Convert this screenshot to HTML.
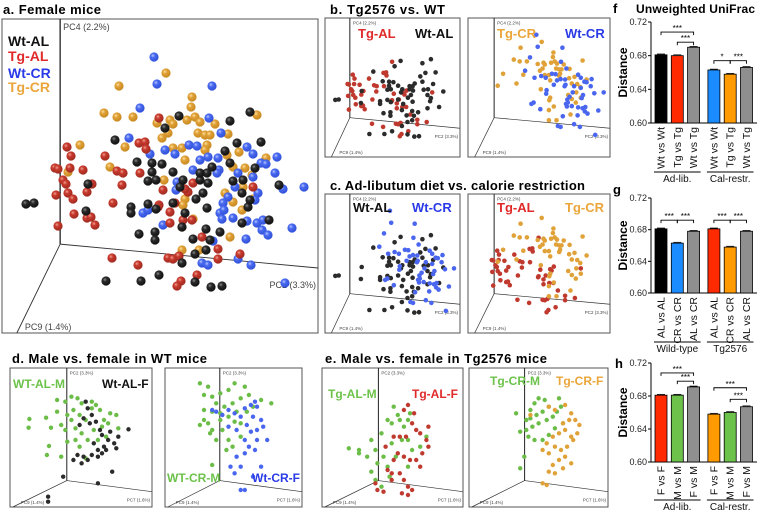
<!DOCTYPE html>
<html><head><meta charset="utf-8"><style>
html,body{margin:0;padding:0;background:#fff;}
svg{display:block;font-family:"Liberation Sans",Arial,sans-serif;}
</style></head><body>
<svg id="fig" width="758" height="513" viewBox="0 0 758 513" xmlns="http://www.w3.org/2000/svg">
<defs>
<radialGradient id="gk" cx="38%" cy="35%" r="65%"><stop offset="0" stop-color="#888"/><stop offset="0.35" stop-color="#2a2a2a"/><stop offset="1" stop-color="#111"/></radialGradient>
<radialGradient id="gr" cx="38%" cy="35%" r="65%"><stop offset="0" stop-color="#f0a090"/><stop offset="0.35" stop-color="#c83a2e"/><stop offset="1" stop-color="#a02a20"/></radialGradient>
<radialGradient id="gb" cx="38%" cy="35%" r="65%"><stop offset="0" stop-color="#b8c8ff"/><stop offset="0.35" stop-color="#4a6af0"/><stop offset="1" stop-color="#3050d8"/></radialGradient>
<radialGradient id="go" cx="38%" cy="35%" r="65%"><stop offset="0" stop-color="#ffe0a0"/><stop offset="0.35" stop-color="#e0a238"/><stop offset="1" stop-color="#c88a20"/></radialGradient>
</defs>
<text x="3" y="14" font-size="13" font-weight="bold" textLength="98">a. Female mice</text>
<text x="330" y="14" font-size="13" font-weight="bold" textLength="115">b. Tg2576 vs. WT</text>
<text x="330" y="190" font-size="13" font-weight="bold" textLength="255">c. Ad-libutum diet vs. calorie restriction</text>
<text x="12" y="363" font-size="13" font-weight="bold" textLength="195">d. Male vs. female in WT mice</text>
<text x="325" y="363" font-size="13" font-weight="bold" textLength="222">e. Male vs. female in Tg2576 mice</text>
<text x="613" y="13" font-size="13" font-weight="bold">f</text>
<text x="636" y="13" font-size="12" font-weight="bold" textLength="119">Unweighted UniFrac</text>
<text x="613" y="194" font-size="13" font-weight="bold">g</text>
<text x="615" y="368" font-size="13" font-weight="bold">h</text>
<g id="layer"></g>
</svg>
<script>
// ---------- Panel a data (PCoA scores in panel-a units) ----------
const aWtAL=[[26,204],[34,203],[88,184],[86,211],[106,281],[141,281],[159,275],[195,282],[211,287],[222,286],[182,263],[195,254],[206,250],[139,234],[155,232],[155,240],[193,239],[206,229],[220,232],[210,240],[131,207],[131,213],[148,204],[156,209],[173,203],[185,213],[182,227],[207,208],[203,193],[196,199],[180,187],[200,180],[208,183],[183,180],[148,181],[156,180],[137,162],[162,164],[173,172],[152,163],[152,172],[115,140],[165,128],[179,116],[230,121],[250,112],[237,143],[225,151],[230,163],[212,167],[207,173],[233,181],[243,180],[255,168],[261,142],[279,185],[269,220],[248,207],[242,223],[242,193],[250,200],[200,173]];
const aTgAL=[[67,147],[71,156],[55,168],[58,169],[70,168],[63,180],[66,184],[56,195],[68,193],[73,199],[74,214],[58,226],[87,218],[91,217],[95,225],[87,192],[92,184],[83,170],[105,156],[113,203],[117,171],[123,173],[122,185],[140,173],[139,143],[145,142],[146,149],[159,118],[163,190],[159,205],[170,212],[175,203],[170,223],[183,220],[192,220],[188,192],[193,183],[185,189],[112,258],[138,265],[168,258],[173,259],[179,256],[181,281],[177,286],[197,275],[202,237],[218,249],[218,259],[240,254],[253,187],[158,207]];
const aWtCR=[[154,57],[157,84],[212,86],[140,108],[209,118],[221,133],[129,138],[150,154],[165,150],[175,154],[189,145],[197,146],[208,157],[200,160],[193,170],[218,158],[219,170],[217,173],[247,147],[253,154],[261,163],[266,164],[277,157],[275,173],[283,189],[304,187],[253,177],[258,193],[255,200],[238,173],[235,187],[228,197],[223,203],[220,213],[222,219],[233,218],[247,221],[257,223],[263,220],[262,230],[268,235],[292,228],[246,239],[213,241],[163,225],[143,213],[148,210],[177,182],[176,190],[202,263],[208,265],[238,259],[251,265],[285,283],[224,210]];
const aTgCR=[[166,73],[119,86],[104,113],[117,117],[133,117],[192,97],[191,107],[157,123],[170,120],[173,124],[187,120],[195,117],[200,122],[215,124],[257,115],[168,133],[162,138],[198,133],[205,135],[210,135],[228,134],[80,145],[125,147],[173,148],[182,148],[207,145],[205,150],[185,160],[227,155],[239,152],[266,158],[110,167],[68,172],[164,180],[233,167],[245,168],[252,175],[225,193],[233,202],[242,210],[253,199],[185,199],[183,205],[193,219],[182,227],[230,237],[182,250],[199,250],[243,187]];
// ---------- Panels d/e data (PC scores, male/female) ----------
const dWtALM=[[72,237],[113,233],[125,263],[70,263],[120,318],[115,345],[150,350],[165,305],[160,270],[140,180],[160,185],[175,170],[190,175],[200,190],[180,210],[165,225],[195,225],[210,240],[225,205],[235,195],[245,210],[255,240],[265,250],[285,225],[290,265],[230,270],[200,280],[185,300],[215,300],[240,300],[260,290],[175,240],[150,255],[140,215],[210,355],[225,185],[185,265],[195,320],[250,260],[270,220]];
const dWtALF=[[210,185],[215,205],[205,235],[220,250],[235,245],[245,270],[250,285],[270,275],[265,300],[280,310],[255,320],[240,330],[225,345],[205,350],[200,370],[215,360],[180,360],[240,350],[285,325],[290,290],[315,268],[275,395],[240,430],[155,410],[118,470],[118,485],[195,255],[225,225],[260,330],[230,310],[250,340],[190,345]];
const dWtCRM=[[490,130],[510,140],[500,165],[520,170],[540,160],[560,150],[575,130],[600,140],[610,165],[590,175],[570,190],[550,200],[530,190],[520,215],[500,240],[490,255],[510,250],[520,270],[540,240],[560,230],[575,245],[590,250],[605,215],[620,200],[640,180],[665,190],[500,210],[545,270],[560,300],[570,320],[590,290],[555,330],[520,375],[540,220],[580,215],[515,280],[530,300]];
const dWtCRF=[[520,210],[530,215],[545,225],[560,210],[575,220],[590,230],[600,205],[615,195],[625,185],[630,200],[620,230],[640,240],[645,260],[630,270],[615,275],[600,300],[610,320],[625,330],[600,340],[580,350],[590,380],[565,380],[575,400],[620,410],[640,380],[590,450],[600,450],[630,300],[655,300],[560,260],[580,270],[605,255]];
const eTgALM=[[855,325],[880,330],[900,350],[910,300],[920,330],[935,280],[950,240],[960,250],[965,200],[975,225],[980,240],[990,260],[1000,240],[1005,220],[985,300],[960,310],[940,350],[925,370],[950,380],[970,350],[1000,300],[1010,330],[1030,320],[1045,290],[880,340],[910,395],[1000,380],[920,420],[935,440],[955,410]];
const eTgALF=[[990,210],[1000,195],[1015,220],[1010,250],[1020,270],[1030,280],[1045,300],[1050,320],[1035,340],[1020,360],[1005,360],[990,350],[975,340],[965,360],[950,390],[960,400],[980,400],[990,420],[1000,440],[1010,450],[1000,465],[985,460],[960,420],[920,430],[925,450],[940,455],[995,290],[980,290],[1030,380],[1050,260],[965,290],[945,320]];
const eTgCRM=[[1275,275],[1290,240],[1300,210],[1310,190],[1320,175],[1335,180],[1345,200],[1330,215],[1315,225],[1300,235],[1290,270],[1305,260],[1320,250],[1340,240],[1355,230],[1365,215],[1375,200],[1360,265],[1345,285],[1330,300],[1310,300],[1295,290],[1275,385],[1285,350],[1370,175],[1380,250],[1265,220]];
const eTgCRF=[[1345,200],[1360,210],[1385,195],[1400,220],[1410,240],[1420,255],[1415,280],[1400,290],[1385,270],[1370,280],[1355,290],[1340,310],[1330,330],[1345,340],[1360,320],[1375,330],[1390,320],[1405,300],[1385,350],[1370,360],[1355,375],[1380,385],[1400,370],[1345,395],[1360,400],[1330,430],[1340,435],[1380,250],[1395,240],[1300,225]];
// ---------- Bar chart data ----------
const yTicks=[0.60,0.64,0.68,0.72];
const fCats=["Wt vs Wt","Tg vs Tg","Wt vs Tg","Wt vs Wt","Tg vs Tg","Wt vs Tg"];
const fValues=[0.681,0.680,0.690,0.663,0.658,0.666];
const fGroups=["Ad-lib.","Cal-restr."];
const gCats=["AL vs AL","CR vs CR","AL vs CR","AL vs AL","CR vs CR","AL vs CR"];
const gValues=[0.681,0.663,0.678,0.681,0.658,0.678];
const gGroups=["Wild-type","Tg2576"];
const hCats=["F vs F","M vs M","F vs M","F vs F","M vs M","F vs M"];
const hValues=[0.681,0.681,0.691,0.658,0.660,0.667];
const hGroups=["Ad-lib.","Cal-restr."];
const fSig=[[0,2,"***",0.708],[1,2,"***",0.696],[3,4,"*",0.674],[4,5,"***",0.674]];
const gSig=[[0,1,"***",0.692],[1,2,"***",0.692],[3,4,"***",0.692],[4,5,"***",0.692]];
const hSig=[[0,2,"***",0.708],[1,2,"***",0.698],[3,5,"***",0.690],[4,5,"***",0.676]];

const NS="http://www.w3.org/2000/svg";
const layer=document.getElementById('layer');
function mk(tag,attrs,parent){const e=document.createElementNS(NS,tag);for(const k in attrs)e.setAttribute(k,attrs[k]);(parent||layer).appendChild(e);return e;}
function txt(x,y,s,size,attrs,parent){const t=mk('text',Object.assign({x:x,y:y,'font-size':size},attrs||{}),parent);t.textContent=s;return t;}
function lin(d0,d1,r0,r1){return v=>r0+(v-d0)/(d1-d0)*(r1-r0);}

function frame(name,x0,y0,x1,y1,g,labs){
  const grp=mk('g',{});
  
  
  const w=x1-x0,h=y1-y0;
  const r=mk('rect',{x:x0,y:y0,width:w,height:h,fill:'none',stroke:'#555','stroke-width':1},grp);
  
  
  const vx=x0+g.vx*w, vy=y0+g.vy*h;
  mk('line',{x1:vx,y1:y0,x2:vx,y2:vy,stroke:'#222','stroke-width':g.sw},grp);
  mk('line',{x1:vx,y1:vy,x2:x1,y2:y0+g.ry*h,stroke:'#333','stroke-width':g.sw*0.7},grp);
  mk('line',{x1:vx,y1:vy,x2:x0+g.dx*w,y2:y1,stroke:'#333','stroke-width':g.sw*0.7},grp);
  const fs=g.fs;
  const t1=txt(vx+3,y0+fs+2,labs[0],fs,{fill:'#444'},grp);
  
  const t2=txt(x1-2,y0+g.ry*h+fs*2.2,labs[1],fs,{fill:'#444','text-anchor':'end'},grp);
  
  const t3=txt(x0+g.dx*w+8,y1-3,labs[2],fs,{fill:'#444'},grp);
  
  return grp;
}
function points(name,data,sx,sy,r,fill,parent){
  const grp=mk('g',{},parent);
  
  
  data.forEach(p=>{
    const c=mk('circle',{cx:sx(p[0]).toFixed(1),cy:sy(p[1]).toFixed(1),r:r,fill:fill},grp);
    
    
  });
}
function label(name,x,y,s,size,color){
  const t=txt(x,y,s,size,{fill:color,'font-weight':'bold'});
  
  
}
const C={k:'#2b2b2b',r:'#c0392e',b:'#4a66ee',o:'#e0a238',g:'#6cbd48'};
const L={k:'#111',r:'#e02a2a',b:'#2a3ae6',o:'#eaa63a',g:'#6cc24a'};

// ----- Panel a -----
const gA={vx:0.184,vy:0.717,ry:0.793,dx:0.047,sw:1.3,fs:9};
frame('panel-a-plot',2,19,318,333,gA,['PC4 (2.2%)','PC2 (3.3%)','PC9 (1.4%)']);
const axA=lin(2,318,2,318), ayA=lin(19,333,19,333);
points('tg-cr-female-points',aTgCR,axA,ayA,4.6,'url(#go)');
points('wt-cr-female-points',aWtCR,axA,ayA,4.6,'url(#gb)');
points('tg-al-female-points',aTgAL,axA,ayA,4.6,'url(#gr)');
points('wt-al-female-points',aWtAL,axA,ayA,4.6,'url(#gk)');
label('legend-wt-al',8,46,'Wt-AL',14,L.k);
label('legend-tg-al',8,61,'Tg-AL',14,L.r);
label('legend-wt-cr',8,78,'Wt-CR',14,L.b);
label('legend-tg-cr',8,92,'Tg-CR',14,L.o);

// ----- Panels b, c -----
const gS={vx:0.184,vy:0.717,ry:0.793,dx:0.047,sw:1,fs:4.5};
function small(name,box,sets,labs){
  frame(name,box[0],box[1],box[2],box[3],gS,['PC4 (2.2%)','PC2 (3.3%)','PC9 (1.4%)']);
  const sx=lin(2,318,box[0],box[2]), sy=lin(19,333,box[1],box[3]);
  sets.forEach(s=>points(s[0],s[1],sx,sy,2.3,s[2]));
  labs.forEach(l=>label(l[0],l[1],l[2],l[3],13,l[4]));
}
small('panel-b-al-plot',[325,18,460,157],[['b-tg-al-points',aTgAL,C.r],['b-wt-al-points',aWtAL,C.k]],[['b-label-tg-al',358,38,'Tg-AL',L.r],['b-label-wt-al',415,38,'Wt-AL',L.k]]);
small('panel-b-cr-plot',[468,18,610,157],[['b-tg-cr-points',aTgCR,C.o],['b-wt-cr-points',aWtCR,C.b]],[['b-label-tg-cr',497,38,'Tg-CR',L.o],['b-label-wt-cr',565,38,'Wt-CR',L.b]]);
small('panel-c-wt-plot',[325,194,460,333],[['c-wt-al-points',aWtAL,C.k],['c-wt-cr-points',aWtCR,C.b]],[['c-label-wt-al',353,212,'Wt-AL',L.k],['c-label-wt-cr',412,212,'Wt-CR',L.b]]);
small('panel-c-tg-plot',[468,194,610,333],[['c-tg-al-points',aTgAL,C.r],['c-tg-cr-points',aTgCR,C.o]],[['c-label-tg-al',497,212,'Tg-AL',L.r],['c-label-tg-cr',565,212,'Tg-CR',L.o]]);

// ----- Panels d, e -----
const gD={vx:0.40,vy:0.81,ry:0.89,dx:0.02,sw:1,fs:4.5};
const sxD=v=>v*0.408, syD=v=>340+v/3;
function de(name,box,sets,labs){
  frame(name,box[0],box[1],box[2],box[3],gD,['PC2 (3.3%)','PC7 (1.6%)','PC9 (1.4%)']);
  sets.forEach(s=>points(s[0],s[1],sxD,syD,2.2,s[2]));
  labs.forEach(l=>label(l[0],l[1],l[2],l[3],12,l[4]));
}
de('panel-d-al-plot',[10,368,152,507],[['d-wt-al-m-points',dWtALM,C.g],['d-wt-al-f-points',dWtALF,C.k]],[['d-label-wt-al-m',13,388,'WT-AL-M',L.g],['d-label-wt-al-f',102,388,'Wt-AL-F',L.k]]);
de('panel-d-cr-plot',[165,368,302,507],[['d-wt-cr-m-points',dWtCRM,C.g],['d-wt-cr-f-points',dWtCRF,C.b]],[['d-label-wt-cr-m',167,482,'WT-CR-M',L.g],['d-label-wt-cr-f',252,482,'Wt-CR-F',L.b]]);
de('panel-e-al-plot',[322,368,463,507],[['e-tg-al-m-points',eTgALM,C.g],['e-tg-al-f-points',eTgALF,C.r]],[['e-label-tg-al-m',328,398,'Tg-AL-M',L.g],['e-label-tg-al-f',412,398,'Tg-AL-F',L.r]]);
de('panel-e-cr-plot',[469,368,608,507],[['e-tg-cr-m-points',eTgCRM,C.g],['e-tg-cr-f-points',eTgCRF,C.o]],[['e-label-tg-cr-m',490,385,'Tg-CR-M',L.g],['e-label-tg-cr-f',556,385,'Tg-CR-F',L.o]]);

// ----- Bar charts -----
function bars(name,top,bottom,cats,vals,cols,groups,sig,ul){
  const g=mk('g',{});
  
  
  const y=lin(0.60,0.72,bottom,top);
  const bx=i=>661+i*16.3+(i>=3?4:0);
  const ax=651;
  mk('line',{x1:ax,y1:top,x2:ax,y2:bottom,stroke:'#000','stroke-width':1},g);
  mk('line',{x1:ax,y1:bottom,x2:757,y2:bottom,stroke:'#000','stroke-width':1},g);
  yTicks.forEach(t=>{
    mk('line',{x1:ax-3,y1:y(t),x2:ax,y2:y(t),stroke:'#000'},g);
    const tl=txt(ax-4,y(t)+3,t.toFixed(2),9,{'text-anchor':'end',fill:'#222'},g);
    
    
  });
  const yl=txt(0,0,'Distance',12,{'font-weight':'bold','text-anchor':'middle',transform:`translate(627,${(top+bottom)/2}) rotate(-90)`},g);
  
  
  vals.forEach((v,i)=>{
    const b=mk('rect',{x:bx(i)-6,y:y(v),width:12,height:bottom-y(v),fill:cols[i],stroke:'#000','stroke-width':0.8},g);
    
    
    mk('line',{x1:bx(i)-4,y1:y(v)-0.8,x2:bx(i)+4,y2:y(v)-0.8,stroke:'#000','stroke-width':0.8},g);
    const xl=txt(0,0,cats[i],10.5,{'text-anchor':'end',fill:'#111',transform:`translate(${bx(i)+3.5},${bottom+4}) rotate(-90)`},g);
    
    
  });
  [[0,2],[3,5]].forEach((r,k)=>{
    const x1=bx(r[0])-7,x2=bx(r[1])+7;
    mk('line',{x1:x1,y1:ul,x2:x2,y2:ul,stroke:'#000','stroke-width':0.9},g);
    const gl=txt((x1+x2)/2,ul+10,groups[k],10,{'text-anchor':'middle',fill:'#111'},g);
    
    
  });
  sig.forEach(s=>{
    const x1=bx(s[0]),x2=bx(s[1]),yy=y(s[3]);
    const p=mk('path',{d:`M${x1},${yy+3}V${yy}H${x2}V${yy+3}`,fill:'none',stroke:'#000','stroke-width':0.9},g);
    
    
    const st=txt((x1+x2)/2,yy-1,s[2],8,{'text-anchor':'middle'},g);
    
    
  });
}
bars('panel-f-bar-chart',22,123,fCats,fValues,['#000','#ff2a00','#8f8f8f','#1a8cff','#ff9a00','#8f8f8f'],fGroups,fSig,172);
bars('panel-g-bar-chart',198,293,gCats,gValues,['#000','#1a8cff','#8f8f8f','#ff2a00','#ff9a00','#8f8f8f'],gGroups,gSig,342);
bars('panel-h-bar-chart',363,462,hCats,hValues,['#ff2a00','#6cc24a','#8f8f8f','#ff9a00','#6cc24a','#8f8f8f'],hGroups,hSig,500);
</script>
</body></html>
